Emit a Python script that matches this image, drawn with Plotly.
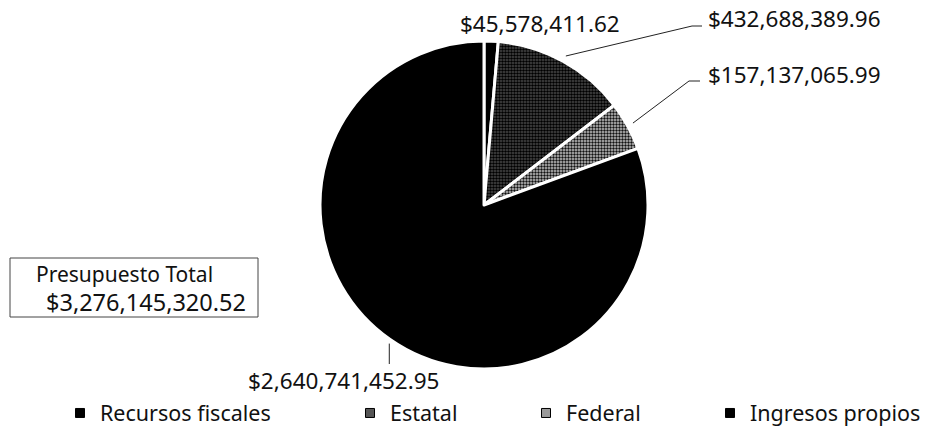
import math
import plotly.graph_objects as go

# ---- data ----
categories = ["Recursos fiscales", "Estatal", "Federal", "Ingresos propios"]
values = [2640741452.95, 432688389.96, 157137065.99, 45578411.62]
value_labels = ["$2,640,741,452.95", "$432,688,389.96", "$157,137,065.99", "$45,578,411.62"]
total_title = "Presupuesto Total"
# order the slices are drawn clockwise from 12 o'clock
slice_order = [3, 1, 2, 0]

W, H = 931, 439
FONT = "Noto Sans"

def px(x):
    return x / W

def py(y):
    return 1 - y / H

# pie geometry (screen pixels)
cx, cy, r = 484, 205, 164

fill_colors = {0: "#000000", 1: "#2e2e2e", 2: "#a0a0a0", 3: "#000000"}
patterns = {
    0: dict(shape=""),
    1: dict(shape=".", fgcolor="#000000", bgcolor="#4a4a4a", size=3, solidity=0.55),
    2: dict(shape=".", fgcolor="#111111", bgcolor="#c4c4c4", size=3, solidity=0.5),
    3: dict(shape=""),
}

ordered_labels = [categories[i] for i in slice_order]
ordered_values = [values[i] for i in slice_order]

fig = go.Figure()
fig.add_trace(go.Pie(
    labels=ordered_labels,
    values=ordered_values,
    sort=False,
    direction="clockwise",
    rotation=0,
    textinfo="none",
    hoverinfo="label+value+percent",
    showlegend=False,
    marker=dict(
        colors=[fill_colors[i] for i in slice_order],
        pattern=dict(
            shape=[patterns[i]["shape"] for i in slice_order],
            fgcolor=[patterns[i].get("fgcolor", "#000") for i in slice_order],
            bgcolor=[patterns[i].get("bgcolor", fill_colors[i]) for i in slice_order],
            size=[patterns[i].get("size", 4) for i in slice_order],
            solidity=[patterns[i].get("solidity", 0.5) for i in slice_order],
        ),
        line=dict(color="white", width=3),
    ),
    domain=dict(x=[px(cx - r), px(cx + r)], y=[py(cy + r), py(cy - r)]),
))

# mid angles (clockwise from top) of each category
total = sum(values)
mid_cw = {}
acc = 0.0
for i in slice_order:
    frac = values[i] / total
    mid_cw[i] = (acc + frac / 2) * 360
    acc += frac

def edge(i, rr):
    a = math.radians(mid_cw[i])
    return cx + rr * math.sin(a), cy - rr * math.cos(a)

shapes = []
annotations = []
label_font = dict(family=FONT, size=22.5, color="#111111")

# Estatal leader + label
ex, ey = edge(1, r + 6)
shapes.append(dict(type="path", xref="paper", yref="paper",
                   path=f"M {px(ex)},{py(ey)} L {px(692)},{py(26)} L {px(702)},{py(26)}",
                   line=dict(color="#222", width=1)))
annotations.append(dict(x=px(706), y=py(19), xref="paper", yref="paper", text=value_labels[1],
                        showarrow=False, xanchor="left", yanchor="middle", font=label_font))
# Federal leader + label
ex, ey = edge(2, r + 6)
shapes.append(dict(type="path", xref="paper", yref="paper",
                   path=f"M {px(ex)},{py(ey)} L {px(689)},{py(81)} L {px(700)},{py(81)}",
                   line=dict(color="#222", width=1)))
annotations.append(dict(x=px(706), y=py(75), xref="paper", yref="paper", text=value_labels[2],
                        showarrow=False, xanchor="left", yanchor="middle", font=label_font))
# Ingresos propios label
annotations.append(dict(x=px(540), y=py(23), xref="paper", yref="paper", text=value_labels[3],
                        showarrow=False, xanchor="center", yanchor="middle", font=label_font))
# Recursos fiscales leader + label
ex, ey = edge(0, r + 5)
shapes.append(dict(type="path", xref="paper", yref="paper",
                   path=f"M {px(ex + 2)},{py(ey)} L {px(ex + 2)},{py(364)}",
                   line=dict(color="#222", width=1)))
annotations.append(dict(x=px(343), y=py(380), xref="paper", yref="paper", text=value_labels[0],
                        showarrow=False, xanchor="center", yanchor="middle", font=label_font))

# total box
shapes.append(dict(type="rect", xref="paper", yref="paper",
                   x0=px(10), x1=px(258), y0=py(317), y1=py(258),
                   line=dict(color="#444", width=1)))
annotations.append(dict(x=px(34), y=py(274), xref="paper", yref="paper", text=total_title,
                        showarrow=False, xanchor="left", yanchor="middle",
                        font=dict(family=FONT, size=21, color="#111")))
annotations.append(dict(x=px(44), y=py(302), xref="paper", yref="paper",
                        text="${:,.2f}".format(total),
                        showarrow=False, xanchor="left", yanchor="middle",
                        font=dict(family=FONT, size=23.5, color="#111")))

# legend entries (one legend per entry to mimic spacing)
legend_colors = ["#000000", "#555555", "#999999", "#000000"]
legend_text_x = [100, 390, 566, 750]
layout_legends = {}
for k, (name, col) in enumerate(zip(categories, legend_colors)):
    lname = "legend" if k == 0 else f"legend{k + 1}"
    fig.add_trace(go.Scatter(x=[None], y=[None], mode="markers", name=name,
                             marker=dict(symbol="square", size=9, color=col,
                                         line=dict(color="#000", width=1)),
                             legend=lname, showlegend=True, hoverinfo="skip"))
    layout_legends[lname] = dict(
        x=px(legend_text_x[k] - 40), y=py(413), xanchor="left", yanchor="middle",
        orientation="h", bgcolor="rgba(0,0,0,0)", borderwidth=0,
        font=dict(family=FONT, size=21.5, color="#111"), itemwidth=30,
    )

fig.update_layout(
    width=W, height=H,
    margin=dict(l=0, r=0, t=0, b=0),
    paper_bgcolor="white", plot_bgcolor="white",
    xaxis=dict(visible=False), yaxis=dict(visible=False),
    shapes=shapes, annotations=annotations,
    font=dict(family=FONT),
    **layout_legends,
)

fig.write_html("out.html",
               config={"displayModeBar": False},
               post_script="document.body.style.margin='0';document.body.style.overflow='hidden';")
